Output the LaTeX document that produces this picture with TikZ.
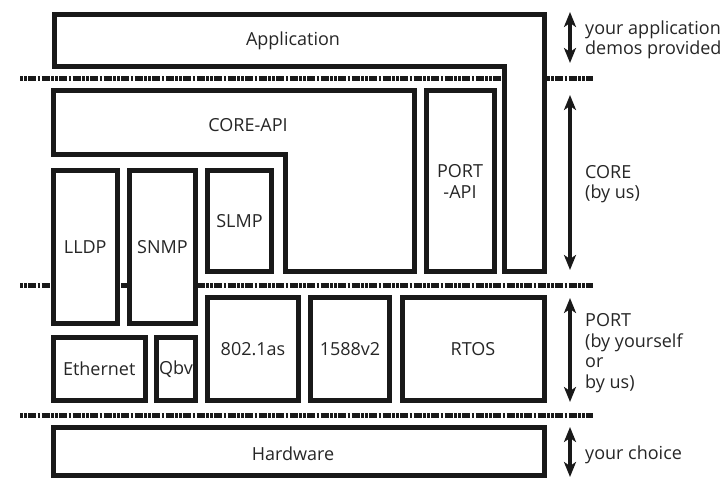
\documentclass[tikz,border=0pt]{standalone}
\usepackage{fontspec}
\setmainfont{Open Sans}
\usetikzlibrary{arrows.meta}
\newcommand\mylblfont{\fontsize{18}{20.5}\selectfont}
\begin{document}
\begin{tikzpicture}[x=1pt,y=-1pt,
  box/.style={draw=black!90, line width=5pt, fill=white, inner sep=0pt, font=\mylblfont, text=black!85, align=center},
  lbl/.style={font=\mylblfont, text=black!85, inner sep=0pt, align=left},
  sepline/.style={line width=5pt, black!90, dash pattern=on 2.5pt off 1.5pt on 2.5pt off 1.5pt on 8pt off 1.5pt on 2.5pt off 1.5pt on 8pt off 1.5pt},
  dbl/.style={line width=3.5pt, black!90, {Stealth[length=15pt,width=12pt,inset=4pt]}-{Stealth[length=15pt,width=12pt,inset=4pt]}},
]
\useasboundingbox (0,0) rectangle (727,478);
% separator lines
\coordinate (s1l) at (20,79);  \coordinate (s1r) at (593,79);
\coordinate (s2l) at (20,285); \coordinate (s2r) at (593,285);
\coordinate (s3l) at (20,415); \coordinate (s3r) at (593,415);
\draw[sepline] (s1l) -- (s1r);
\draw[sepline] (s2l) -- (s2r);
\draw[sepline] (s3l) -- (s3r);
% Application (L-shape)
\draw[line width=5pt, black!90, fill=white] (54,14.5) -- (544,14.5) -- (544,271.5) -- (504,271.5) -- (504,67) -- (54,67) -- cycle;
\node[lbl] (app) at (293,41) {Application};
% CORE-API (L-shape)
\draw[line width=5pt, black!90, fill=white] (53.5,90.5) -- (414,90.5) -- (414,271.5) -- (285,271.5) -- (285,155) -- (53.5,155) -- cycle;
\node[lbl] (coreapi) at (248,125) {CORE-API};
% boxes
\node[box, minimum width=68pt, minimum height=180.5pt] (portapi) at (460,181.25) {PORT\\-API};
\node[box, minimum width=64.5pt, minimum height=152.5pt] (lldp) at (85.25,246.75) {LLDP};
\node[box, minimum width=66pt, minimum height=152.5pt] (snmp) at (162.5,246.75) {SNMP};
\node[box, minimum width=64pt, minimum height=100.5pt] (slmp) at (239.5,220.75) {SLMP};
\node[box, minimum width=91pt, minimum height=103pt] (as) at (253,349) {802.1as};
\node[box, minimum width=79pt, minimum height=103pt] (ptp) at (350,349) {1588v2};
\node[box, minimum width=142pt, minimum height=103pt] (rtos) at (473,349) {RTOS};
\node[box, minimum width=92.5pt, minimum height=63pt] (eth) at (99.25,369) {Ethernet};
\node[box, minimum width=39pt, minimum height=63pt] (qbv) at (176,369) {Qbv};
\node[box, minimum width=491pt, minimum height=48pt] (hw) at (298.5,451) {};
\node[lbl] (hwlbl) at (293,454) {Hardware};
% arrows
\coordinate (a1t) at (570,12);  \coordinate (a1b) at (570,63);
\coordinate (a2t) at (570,95);  \coordinate (a2b) at (570,270);
\coordinate (a3t) at (570,298); \coordinate (a3b) at (570,402);
\coordinate (a4t) at (570,427); \coordinate (a4b) at (570,477);
\draw[dbl] (a1t) -- (a1b);
\draw[dbl] (a2t) -- (a2b);
\draw[dbl] (a3t) -- (a3b);
\draw[dbl] (a4t) -- (a4b);
% right-hand labels
\node[lbl, anchor=west] (t1) at (585,40) {your application\\demos provided};
\node[lbl, anchor=west] (t2) at (585,184) {CORE\\(by us)};
\node[lbl, anchor=west] (t3) at (585,353) {PORT\\(by yourself\\or\\by us)};
\node[lbl, anchor=west] (t4) at (585,455) {your choice};
\end{tikzpicture}
\end{document}
